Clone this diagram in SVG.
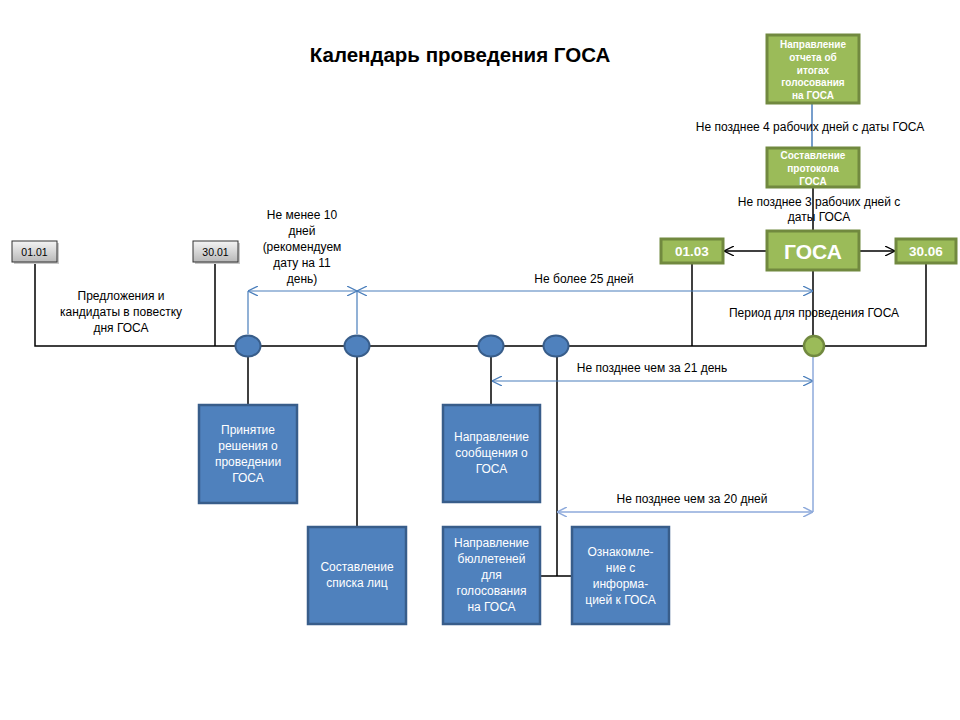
<svg xmlns="http://www.w3.org/2000/svg" width="960" height="720" viewBox="0 0 960 720">
<style>
text{font-family:"Liberation Sans","DejaVu Sans",sans-serif;}
.lbl{font-size:12px;fill:#000;text-anchor:middle;}
.wt{font-size:12px;fill:#fff;text-anchor:middle;}
.gt{font-size:10px;fill:#fff;font-weight:bold;text-anchor:middle;}
.bb{fill:#4F81BD;stroke:#385D8A;stroke-width:2.5;}
.gb{fill:#9BBB59;stroke:#71893F;stroke-width:3;}
.gy{fill:url(#gry);stroke:#333;stroke-width:1;}
.sh{fill:#c8c8c8;}
.k{stroke:#000;stroke-width:1.5;fill:none;}
.b{stroke:#4A7EBB;stroke-width:1.2;fill:none;}
.lb{stroke:#8EAADB;stroke-width:1.5;fill:none;}
</style>
<defs>
<linearGradient id="gry" x1="0" y1="0" x2="0" y2="1">
<stop offset="0" stop-color="#f4f4f4"/><stop offset="1" stop-color="#b8b8b8"/>
</linearGradient>
<marker id="ab" viewBox="0 0 10 10" refX="10" refY="5" markerWidth="10" markerHeight="10" markerUnits="userSpaceOnUse" orient="auto-start-reverse">
<path d="M0,0 L10,5 L0,10" fill="none" stroke="#4A7EBB" stroke-width="1.2"/>
</marker>
<marker id="alb" viewBox="0 0 10 10" refX="10" refY="5" markerWidth="10" markerHeight="10" markerUnits="userSpaceOnUse" orient="auto-start-reverse">
<path d="M0,0 L10,5 L0,10" fill="none" stroke="#8EAADB" stroke-width="1.5"/>
</marker>
<marker id="ak" viewBox="0 0 10 10" refX="10" refY="5" markerWidth="10" markerHeight="10" markerUnits="userSpaceOnUse" orient="auto">
<path d="M0,0 L10,5 L0,10" fill="none" stroke="#000" stroke-width="1.3"/>
</marker>
</defs>
<rect width="960" height="720" fill="#fff"/>

<text x="460" y="62" font-size="20.5" font-weight="bold" text-anchor="middle">Календарь проведения ГОСА</text>

<g id="connectors">
<path class="k" d="M35,262 V346 H926 V263"/>
<path class="k" d="M215,262 V346"/>
<path class="k" d="M692,263 V346"/>
<path class="k" d="M813,270 V335"/>
<path class="k" d="M813,187 V231"/>
<path class="b" d="M812,103 V148" style="stroke-width:1.5"/>
<path class="k" d="M248,357 V405"/>
<path class="k" d="M357,357 V527"/>
<path class="k" d="M491,357 V405"/>
<path class="k" d="M557,357 V576 M540,576 H572"/>
<path class="k" d="M767,251 H724" marker-end="url(#ak)"/>
<path class="k" d="M859,251 H895" marker-end="url(#ak)"/>
<path class="b" d="M248,334 V291 M357,334 V291"/>
<path class="b" d="M248,291 H357" marker-start="url(#ab)" marker-end="url(#ab)"/>
<path class="b" d="M357,291 H813" marker-start="url(#ab)" marker-end="url(#ab)"/>
<path class="b" d="M492,381 H813" marker-start="url(#ab)" marker-end="url(#ab)"/>
<path class="lb" d="M813,357 V512"/>
<path class="lb" d="M557,512 H813" marker-start="url(#alb)" marker-end="url(#alb)"/>
</g>

<g id="d0101"><rect class="sh" x="14" y="243" width="45" height="21"/><rect class="gy" x="12" y="241" width="45" height="21"/><text x="34.5" y="255.5" font-size="10.5" text-anchor="middle">01.01</text></g>
<g id="d3001"><rect class="sh" x="195" y="243" width="45" height="21"/><rect class="gy" x="193" y="241" width="45" height="21"/><text x="215.5" y="255.5" font-size="10.5" text-anchor="middle">30.01</text></g>

<g id="lbl-proposals">
<text class="lbl" x="121" y="300">Предложения  и</text>
<text class="lbl" x="121" y="316">кандидаты в повестку</text>
<text class="lbl" x="121" y="332">дня ГОСА</text>
</g>

<g id="lbl-10">
<text class="lbl" x="302" y="219">Не менее  10</text>
<text class="lbl" x="302" y="235">дней</text>
<text class="lbl" x="302" y="251">(рекомендуем</text>
<text class="lbl" x="302" y="267">дату на 11</text>
<text class="lbl" x="302" y="283">день)</text>
</g>
<text class="lbl" x="584" y="283">Не более 25 дней</text>
<text class="lbl" x="652" y="372">Не позднее  чем за 21 день</text>
<text class="lbl" x="692" y="503">Не позднее  чем за 20 дней</text>
<text class="lbl" x="814" y="317">Период  для проведения  ГОСА</text>
<text class="lbl" x="810" y="131">Не  позднее  4 рабочих дней  с даты ГОСА</text>
<g id="lbl-3">
<text class="lbl" x="819" y="206">Не  позднее  3 рабочих дней  с</text>
<text class="lbl" x="819" y="221">даты ГОСА</text>
</g>

<g id="c1"><ellipse class="bb" cx="248" cy="346" rx="12.5" ry="10.5" style="stroke-width:2"/></g>
<g id="c2"><ellipse class="bb" cx="357" cy="346" rx="12.5" ry="10.5" style="stroke-width:2"/></g>
<g id="c3"><ellipse class="bb" cx="491" cy="346" rx="12.5" ry="10.5" style="stroke-width:2"/></g>
<g id="c4"><ellipse class="bb" cx="556" cy="346" rx="12.5" ry="10.5" style="stroke-width:2"/></g>
<g id="c5"><ellipse cx="814" cy="346" rx="10" ry="10" fill="#9BBB59" stroke="#71893F" stroke-width="2.5"/></g>

<g id="b1"><rect class="bb" x="199" y="405" width="98" height="98"/>
<text class="wt" x="248" y="434">Принятие</text>
<text class="wt" x="248" y="450">решения  о</text>
<text class="wt" x="248" y="466">проведении</text>
<text class="wt" x="248" y="482">ГОСА</text></g>
<g id="b2"><rect class="bb" x="308" y="527" width="98" height="97"/>
<text class="wt" x="357" y="571">Составление</text>
<text class="wt" x="357" y="587">списка лиц</text></g>
<g id="b3"><rect class="bb" x="443" y="405" width="97" height="97"/>
<text class="wt" x="491.5" y="441">Направление</text>
<text class="wt" x="491.5" y="457">сообщения о</text>
<text class="wt" x="491.5" y="473">ГОСА</text></g>
<g id="b4"><rect class="bb" x="443" y="527" width="97" height="97"/>
<text class="wt" x="491.5" y="547">Направление</text>
<text class="wt" x="491.5" y="563">бюллетеней</text>
<text class="wt" x="491.5" y="579">для</text>
<text class="wt" x="491.5" y="595">голосования</text>
<text class="wt" x="491.5" y="611">на ГОСА</text></g>
<g id="b5"><rect class="bb" x="572" y="527" width="97" height="97"/>
<text class="wt" x="620.5" y="556">Ознакомле-</text>
<text class="wt" x="620.5" y="572">ние  с</text>
<text class="wt" x="620.5" y="588">информа-</text>
<text class="wt" x="620.5" y="604">цией  к ГОСА</text></g>

<g id="g-report"><rect class="gb" x="767" y="35" width="92" height="68"/>
<text class="gt" x="813" y="47.5">Направление</text>
<text class="gt" x="813" y="60.5">отчета об</text>
<text class="gt" x="813" y="73.5">итогах</text>
<text class="gt" x="813" y="86">голосования</text>
<text class="gt" x="813" y="98.5">на ГОСА</text></g>
<g id="g-protocol"><rect class="gb" x="767" y="148" width="92" height="39"/>
<text class="gt" x="813" y="158.5">Составление</text>
<text class="gt" x="813" y="171.5">протокола</text>
<text class="gt" x="813" y="184.5">ГОСА</text></g>
<g id="g-gosa"><rect class="gb" x="767" y="231" width="92" height="39"/>
<text x="813" y="258.5" font-size="21" font-weight="bold" fill="#fff" text-anchor="middle">ГОСА</text></g>
<g id="g-0103"><rect class="gb" x="661" y="239" width="62" height="24"/>
<text x="692" y="256" font-size="13.5" font-weight="bold" fill="#fff" text-anchor="middle">01.03</text></g>
<g id="g-3006"><rect class="gb" x="896" y="239" width="60" height="24"/>
<text x="926" y="256" font-size="13.5" font-weight="bold" fill="#fff" text-anchor="middle">30.06</text></g>
</svg>
